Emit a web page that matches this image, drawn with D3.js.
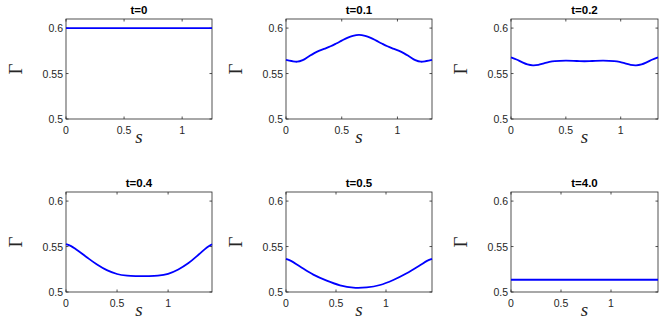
<!DOCTYPE html>
<html>
<head>
<meta charset="utf-8">
<script src="https://cdn.jsdelivr.net/npm/d3@7"></script>
<style>
  body { margin: 0; background: #fff; }
  svg { display: block; }
</style>
</head>
<body>
<div id="chart"></div>
<script>
// panel titles and x ranges
const titles = ["t=0", "t=0.1", "t=0.2", "t=0.4", "t=0.5", "t=4.0"];
const xMax = [1.257, 1.31, 1.34, 1.43, 1.46, 1.47];
const yTicks = [0.5, 0.55, 0.6];
const xTicks = [0, 0.5, 1];

// Gamma(s) for each time
const s1 = [0, 1.257];
const g1 = [0.6, 0.6];

const s2 = [0, 0.05, 0.1, 0.15, 0.2, 0.25, 0.3, 0.35, 0.4, 0.45, 0.5, 0.55, 0.6, 0.655,
  0.71, 0.76, 0.81, 0.86, 0.91, 0.96, 1.01, 1.06, 1.11, 1.16, 1.21, 1.26, 1.31];
const g2 = [0.5650, 0.5638, 0.5630, 0.5648, 0.5685, 0.5722, 0.5752, 0.5775, 0.5800, 0.5830, 0.5862, 0.5893, 0.5915, 0.5925,
  0.5915, 0.5893, 0.5862, 0.5830, 0.5800, 0.5775, 0.5752, 0.5722, 0.5685, 0.5648, 0.5630, 0.5638, 0.5650];

const s3 = [0, 0.05, 0.1, 0.15, 0.2, 0.25, 0.3, 0.35, 0.4, 0.5, 0.6, 0.67,
  0.74, 0.84, 0.94, 0.99, 1.04, 1.09, 1.14, 1.19, 1.24, 1.29, 1.34];
const g3 = [0.5678, 0.5655, 0.5625, 0.5600, 0.5590, 0.5595, 0.5612, 0.5628, 0.5637, 0.5642, 0.5638, 0.5635,
  0.5638, 0.5642, 0.5637, 0.5628, 0.5612, 0.5595, 0.5590, 0.5600, 0.5625, 0.5655, 0.5678];

const s4 = [0, 0.05, 0.1, 0.2, 0.3, 0.4, 0.5, 0.6, 0.7, 0.8, 0.9, 1.0, 1.1, 1.2, 1.3, 1.38, 1.43];
const g4 = [0.5526, 0.5505, 0.5468, 0.5385, 0.5305, 0.5240, 0.5198, 0.5180, 0.5175, 0.5174, 0.5179, 0.5200, 0.5248, 0.5318, 0.5412, 0.5490, 0.5526];

const s5 = [0, 0.05, 0.14, 0.273, 0.407, 0.54, 0.673, 0.807, 0.94, 1.073, 1.207, 1.34, 1.41, 1.46];
const g5 = [0.5364, 0.5342, 0.5280, 0.5191, 0.5125, 0.5074, 0.5048, 0.5051, 0.5077, 0.5132, 0.5206, 0.5294, 0.5342, 0.5364];

const s6 = [0, 1.47];
const g6 = [0.5135, 0.5135];

const sData = [s1, s2, s3, s4, s5, s6];
const gData = [g1, g2, g3, g4, g5, g6];

// axes boxes in pixels: left, right for columns, top, bottom for rows
const colX = [[66, 212], [286, 432], [511, 658]];
const rowY = [[19, 119], [192, 292]];

const svg = d3.select("#chart")
  .append("svg")
  .attr("width", 664)
  .attr("height", 332);

const axisColor = "#262626";
const tickLen = 2.5;

titles.forEach((title, i) => {
  const [x0, x1] = colX[i % 3];
  const [y0, y1] = rowY[Math.floor(i / 3)];

  const x = d3.scaleLinear().domain([0, xMax[i]]).range([x0, x1]);
  const y = d3.scaleLinear().domain([0.5, 0.61]).range([y1, y0]);

  const g = svg.append("g");

  // box
  g.append("rect")
    .attr("x", x0)
    .attr("y", y0)
    .attr("width", x1 - x0)
    .attr("height", y1 - y0)
    .attr("fill", "#fff")
    .attr("stroke", axisColor)
    .attr("stroke-width", 0.8);

  // inward ticks, mirrored on top and right
  xTicks.forEach(t => {
    g.append("line")
      .attr("x1", x(t)).attr("x2", x(t))
      .attr("y1", y1).attr("y2", y1 - tickLen)
      .attr("stroke", axisColor).attr("stroke-width", 0.8);
    g.append("line")
      .attr("x1", x(t)).attr("x2", x(t))
      .attr("y1", y0).attr("y2", y0 + tickLen)
      .attr("stroke", axisColor).attr("stroke-width", 0.8);
    g.append("text")
      .attr("x", x(t))
      .attr("y", y1 + 15)
      .attr("text-anchor", "middle")
      .attr("font-family", "Liberation Sans, Arial, sans-serif")
      .attr("font-size", 10.5)
      .attr("fill", axisColor)
      .text(t);
  });

  yTicks.forEach(t => {
    g.append("line")
      .attr("x1", x0).attr("x2", x0 + tickLen)
      .attr("y1", y(t)).attr("y2", y(t))
      .attr("stroke", axisColor).attr("stroke-width", 0.8);
    g.append("line")
      .attr("x1", x1).attr("x2", x1 - tickLen)
      .attr("y1", y(t)).attr("y2", y(t))
      .attr("stroke", axisColor).attr("stroke-width", 0.8);
    g.append("text")
      .attr("x", x0 - 3)
      .attr("y", y(t) + 4)
      .attr("text-anchor", "end")
      .attr("font-family", "Liberation Sans, Arial, sans-serif")
      .attr("font-size", 10.5)
      .attr("fill", axisColor)
      .text(t);
  });

  // curve
  const pts = sData[i].map((s, k) => [s, gData[i][k]]);
  g.append("path")
    .datum(pts)
    .attr("fill", "none")
    .attr("stroke", "#0000ff")
    .attr("stroke-width", 1.8)
    .attr("d", d3.line()
      .x(d => x(d[0]))
      .y(d => y(d[1]))
      .curve(d3.curveCatmullRom));

  // title
  g.append("text")
    .attr("x", (x0 + x1) / 2)
    .attr("y", y0 - 5)
    .attr("text-anchor", "middle")
    .attr("font-family", "Liberation Sans, Arial, sans-serif")
    .attr("font-size", 11.5)
    .attr("font-weight", "bold")
    .attr("fill", "#000")
    .text(title);

  // axis labels
  g.append("text")
    .attr("x", (x0 + x1) / 2)
    .attr("y", y1 + 24)
    .attr("text-anchor", "middle")
    .attr("font-family", "Liberation Serif, Times New Roman, serif")
    .attr("font-style", "italic")
    .attr("font-size", 19)
    .attr("fill", axisColor)
    .text("s");

  g.append("text")
    .attr("transform", `translate(${x0 - 44},${(y0 + y1) / 2}) rotate(-90)`)
    .attr("text-anchor", "middle")
    .attr("font-family", "Liberation Serif, Times New Roman, serif")
    .attr("font-size", 19)
    .attr("fill", axisColor)
    .text("Γ");
});
</script>
</body>
</html>
